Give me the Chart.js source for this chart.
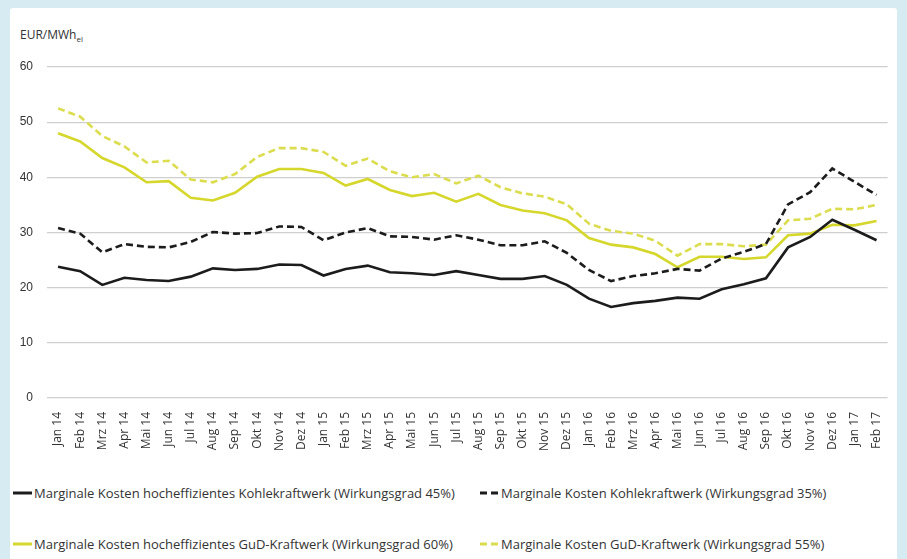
<!DOCTYPE html>
<html>
<head>
<meta charset="utf-8">
<script src="https://cdn.jsdelivr.net/npm/chart.js@4"></script>
<style>
  html, body { margin: 0; padding: 0; }
  body { width: 907px; height: 559px; background: #d6ebf2; position: relative; overflow: hidden;
         font-family: "Open Sans", sans-serif; color: #333; }
  #panel { position: absolute; left: 10px; top: 8px; width: 887px; height: 560px; background: #fff; border-radius: 3px; }
  #wrap { position: absolute; left: 0; top: 0; width: 887px; height: 452px; }
  #unit { position: absolute; left: 10px; top: 20px; font-size: 12px; line-height: 14px; color: #333; }
  #unit sub { font-size: 8px; line-height: 0; }
  .leg { position: absolute; font-size: 13px; color: #333; white-space: nowrap; display: flex; align-items: center; }
  .leg svg { margin-right: 2px; }
</style>
</head>
<body>
<div id="panel">
  <div id="unit">EUR/MWh<sub>el</sub></div>
  <div id="wrap"><canvas id="chart"></canvas></div>
  <div id="legend"></div>
</div>
<script>
  // Monate Jan 14 .. Feb 17
  const months = ['Jan 14','Feb 14','Mrz 14','Apr 14','Mai 14','Jun 14','Jul 14','Aug 14','Sep 14','Okt 14','Nov 14','Dez 14',
    'Jan 15','Feb 15','Mrz 15','Apr 15','Mai 15','Jun 15','Jul 15','Aug 15','Sep 15','Okt 15','Nov 15','Dez 15',
    'Jan 16','Feb 16','Mrz 16','Apr 16','Mai 16','Jun 16','Jul 16','Aug 16','Sep 16','Okt 16','Nov 16','Dez 16',
    'Jan 17','Feb 17'];

  const kohle45 = [23.8, 23.0, 20.5, 21.8, 21.4, 21.2, 22.0, 23.5, 23.2, 23.4, 24.2, 24.1,
    22.2, 23.4, 24.0, 22.8, 22.6, 22.3, 23.0, 22.3, 21.6, 21.6, 22.1, 20.5,
    18.0, 16.5, 17.2, 17.6, 18.2, 18.0, 19.7, 20.6, 21.7, 27.3, 29.2, 32.3, 30.5, 28.6];

  const kohle35 = [30.8, 29.8, 26.4, 27.9, 27.4, 27.3, 28.3, 30.1, 29.8, 29.9, 31.1, 31.0,
    28.6, 30.0, 30.8, 29.3, 29.2, 28.7, 29.5, 28.7, 27.7, 27.7, 28.4, 26.3,
    23.2, 21.2, 22.1, 22.6, 23.4, 23.1, 25.3, 26.5, 27.9, 35.1, 37.3, 41.6, 39.2, 36.8];

  const gud60 = [48.0, 46.5, 43.5, 41.8, 39.1, 39.3, 36.3, 35.8, 37.2, 40.1, 41.5, 41.5,
    40.8, 38.5, 39.7, 37.7, 36.6, 37.2, 35.6, 37.0, 35.0, 34.0, 33.5, 32.2,
    29.0, 27.8, 27.3, 26.1, 23.7, 25.6, 25.6, 25.2, 25.5, 29.5, 29.8, 31.4, 31.3, 32.1];

  const gud55 = [52.5, 51.0, 47.5, 45.6, 42.7, 43.0, 39.6, 39.1, 40.6, 43.7, 45.3, 45.3,
    44.6, 42.1, 43.4, 41.1, 40.0, 40.6, 38.9, 40.3, 38.2, 37.1, 36.5, 35.1,
    31.6, 30.3, 29.8, 28.5, 25.8, 27.9, 27.9, 27.5, 27.8, 32.2, 32.5, 34.3, 34.2, 35.0];

  const yTicks = [0, 10, 20, 30, 40, 50, 60];

  const BLACK = '#1c1c1c';
  const YELLOW = '#d6d72c';
  const YELLOW_LIGHT = '#dcdd4e';

  const series = [
    { label: 'Marginale Kosten hocheffizientes Kohlekraftwerk (Wirkungsgrad 45%)', data: kohle45, color: BLACK, dash: [] },
    { label: 'Marginale Kosten Kohlekraftwerk (Wirkungsgrad 35%)', data: kohle35, color: BLACK, dash: [7, 4] },
    { label: 'Marginale Kosten hocheffizientes GuD-Kraftwerk (Wirkungsgrad 60%)', data: gud60, color: YELLOW, dash: [] },
    { label: 'Marginale Kosten GuD-Kraftwerk (Wirkungsgrad 55%)', data: gud55, color: YELLOW_LIGHT, dash: [7, 4] },
  ];

  const chart = new Chart(document.getElementById('chart'), {
    type: 'line',
    data: {
      labels: months,
      datasets: series.map(s => ({
        label: s.label,
        data: s.data,
        borderColor: s.color,
        backgroundColor: s.color,
        borderDash: s.dash,
        borderWidth: 2.6,
        pointRadius: 0,
        tension: 0,
      }))
    },
    options: {
      responsive: true, maintainAspectRatio: false,
      animation: false,
      layout: { padding: { top: 59, right: 4, left: 0, bottom: 0 } },
      plugins: { legend: { display: false }, tooltip: { enabled: false } },
      scales: {
        x: {
          offset: true,
          grid: { display: false },
          border: { display: false },
          ticks: {
            autoSkip: false, maxRotation: 90, minRotation: 90, padding: 6,
            color: '#333', font: { family: '"Open Sans", sans-serif', size: 12 }
          },
          afterFit: sc => { sc.height = 62; }
        },
        y: {
          min: 0, max: 60,
          afterBuildTicks: sc => { sc.ticks = yTicks.map(v => ({ value: v })); },
          grid: { color: '#cfcfcf', lineWidth: 1.3, drawTicks: false },
          border: { display: false },
          ticks: { padding: 14, color: '#333', font: { family: '"Liberation Sans", sans-serif', size: 12 } },
          afterFit: sc => { sc.width = 37; }
        }
      }
    }
  });

  // Legende (2 Spalten)
  const legPos = [[3, 476], [470, 476], [3, 527], [470, 527]];
  const legend = document.getElementById('legend');
  series.forEach((s, i) => {
    const d = document.createElement('div');
    d.className = 'leg';
    d.style.left = legPos[i][0] + 'px';
    d.style.top = legPos[i][1] + 'px';
    const dashAttr = s.dash.length ? `stroke-dasharray="${s.dash.join(' ')}"` : '';
    d.innerHTML = `<svg width="19" height="10"><line x1="0" y1="5" x2="19" y2="5" stroke="${s.color}" stroke-width="3" ${dashAttr}/></svg><span>${s.label}</span>`;
    legend.appendChild(d);
  });
</script>
</body>
</html>
